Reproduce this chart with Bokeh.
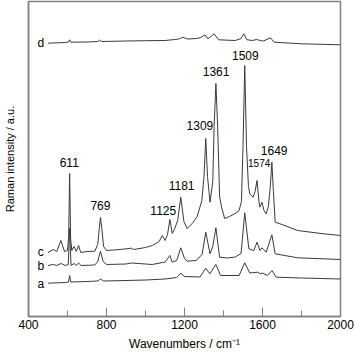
from bokeh.plotting import figure
from bokeh.models import FixedTicker, Range1d
from bokeh.core.properties import value
from bokeh.embed import file_html
from bokeh.resources import INLINE

# ---------------- data ----------------
wn_a = [500, 590, 605, 611, 617, 700, 755, 769, 785, 900, 1000, 1100, 1160, 1181, 1200,
        1280, 1309, 1330, 1361, 1385, 1480, 1509, 1535, 1574, 1590, 1600, 1625, 1649,
        1670, 1800, 2000]
int_a = [33.3, 34, 34.5, 41, 34.5, 35, 35.5, 37.5, 35.5, 36, 36.5, 37.5, 39, 43.3, 40,
         39.5, 48.3, 42.7, 52, 41, 41, 53.7, 43.5, 44.3, 42.7, 43.5, 41, 46,
         39.3, 38.5, 37.5]

wn_b = [500, 527, 545, 566, 590, 604, 611, 618, 634, 645, 657, 670, 740, 755, 769, 783,
        800, 900, 928, 1000, 1035, 1086, 1100, 1125, 1137, 1160, 1181, 1200, 1213, 1260,
        1290, 1309, 1331, 1345, 1361, 1380, 1420, 1460, 1490, 1509, 1530, 1555, 1572,
        1587, 1597, 1619, 1648, 1665, 1780, 2000]
int_b = [51, 52, 51, 53, 51, 52, 88, 51, 53, 51, 53.5, 51, 51.5, 55, 65.3, 55,
         52, 52.5, 53.5, 52.5, 52, 54, 54.3, 61, 54.3, 56, 68.7, 58, 55.3, 56,
         62, 84.3, 62.7, 70, 88.7, 59.3, 58.5, 59.5, 63, 103.7, 67.7, 66, 74.3,
         66, 68.7, 64.3, 81.7, 62.7, 58.7, 57]

wn_c = [500, 527, 545, 566, 585, 600, 606, 611, 616, 622, 634, 645, 657, 668, 700, 740,
        755, 763, 769, 776, 785, 800, 870, 928, 940, 1000, 1035, 1070, 1086, 1100, 1113,
        1125, 1137, 1150, 1165, 1181, 1197, 1213, 1240, 1265, 1289, 1300, 1309, 1318,
        1331, 1345, 1352, 1361, 1370, 1380, 1390, 1406, 1430, 1460, 1480, 1492, 1500,
        1509, 1518, 1528, 1535, 1552, 1562, 1572, 1582, 1587, 1597, 1608, 1619, 1630,
        1640, 1648, 1656, 1665, 1700, 1780, 1900, 2000]
int_c = [64, 67, 65, 76, 65, 66, 80, 143, 78, 66, 70, 65, 71, 64, 65, 65.3,
         72, 88, 99, 88, 70, 66, 67, 68.3, 67, 69, 71, 75, 81, 76, 82,
         97, 83, 88, 96, 119.3, 95, 88, 93, 100, 116, 140, 178, 140,
         114.3, 135, 190, 233, 190, 120, 109.3, 98, 100, 103, 106, 115, 170,
         251, 170, 130, 122.7, 119.3, 125, 136, 115, 109.3, 114.3, 106, 102.7, 110,
         130, 154.3, 125, 94.3, 92, 86, 83, 81]

wn_d = [500, 590, 605, 611, 617, 700, 755, 764, 775, 900, 1000, 1100, 1150, 1170, 1192,
        1215, 1260, 1280, 1305, 1320, 1352, 1375, 1460, 1490, 1504, 1520, 1550, 1568,
        1590, 1605, 1640, 1660, 1800, 2000]
int_d = [273.3, 274, 274.5, 276.7, 274.3, 274.5, 275, 276.3, 275, 275.5, 275.8, 276,
         277, 277.5, 279.3, 277.5, 278, 278.7, 281.7, 277.7, 282.7, 276.7, 276, 278,
         282.7, 276.7, 276, 277, 276, 275.5, 278.7, 274.3, 272.7, 271.7]

peak_labels = ["611", "769", "1125", "1181", "1309", "1361", "1509", "1649"]
peak_x = [609, 769, 1091, 1185, 1279, 1362, 1512, 1660]
peak_y = [154, 111, 106.5, 131.5, 191, 245.5, 261.5, 166.5]
small_label = ["1574"]
small_x = [1583]
small_y = [153.5]

series_names = ["a", "b", "c", "d"]
series_name_x = [463, 463, 463, 463]
series_name_y = [32.5, 50.5, 64.5, 273.5]

major_ticks = [400, 800, 1200, 1600, 2000]
minor_ticks = [600, 1000, 1400, 1800]

# ---------------- figure ----------------
FONT = "Liberation Sans"
p = figure(width=354, height=353, output_backend="svg", toolbar_location=None,
           x_range=Range1d(400, 2000), y_range=Range1d(0, 315),
           min_border_left=25, min_border_right=14, min_border_top=1,
           min_border_bottom=37)
p.background_fill_color = "white"
p.border_fill_color = "white"
p.grid.visible = False
p.outline_line_color = "#808080"
p.outline_line_width = 1.5

xa = p.xaxis[0]
xa.ticker = FixedTicker(ticks=major_ticks, minor_ticks=minor_ticks)
xa.major_tick_in = 9
xa.major_tick_out = 0
xa.minor_tick_in = 6
xa.minor_tick_out = 0
xa.axis_line_color = "#808080"
xa.axis_line_width = 1.5
xa.major_tick_line_color = "#808080"
xa.minor_tick_line_color = "#808080"
xa.major_label_text_font = FONT
xa.major_label_text_font_size = "12px"
xa.major_label_text_color = "black"
xa.major_label_standoff = 3
xa.axis_label = "Wavenumbers / cm\u207b\u00b9"
xa.axis_label_text_font = FONT
xa.axis_label_text_font_size = "12px"
xa.axis_label_text_font_style = "normal"
xa.axis_label_text_color = "black"
xa.axis_label_standoff = 5

ya = p.yaxis[0]
ya.ticker = FixedTicker(ticks=[])
ya.major_tick_in = 0
ya.major_tick_out = 0
ya.minor_tick_in = 0
ya.minor_tick_out = 0
ya.major_label_text_font_size = "0px"
ya.axis_line_color = "#808080"
ya.axis_line_width = 1.5
ya.axis_label = "Raman intensity / a.u."
ya.axis_label_text_font = FONT
ya.axis_label_text_font_size = "11px"
ya.axis_label_text_font_style = "normal"
ya.axis_label_text_color = "black"
ya.axis_label_standoff = 13

for wn, it in [(wn_a, int_a), (wn_b, int_b), (wn_c, int_c), (wn_d, int_d)]:
    p.line(wn, it, line_color="#3a3a3a", line_width=1)

p.text(peak_x, peak_y, text=peak_labels, text_font=value(FONT), text_font_size="12px",
       text_align="center", text_baseline="middle", text_color="black")
p.text(small_x, small_y, text=small_label, text_font=value(FONT), text_font_size="10px",
       text_align="center", text_baseline="middle", text_color="black")
p.text(series_name_x, series_name_y, text=series_names, text_font=value(FONT),
       text_font_size="12px", text_align="center", text_baseline="middle",
       text_color="black")

html = file_html(p, INLINE)
html = html.replace("<head>", "<head><style>html,body{margin:0;padding:0;overflow:hidden}</style>", 1)
open("out.html", "w").write(html)
